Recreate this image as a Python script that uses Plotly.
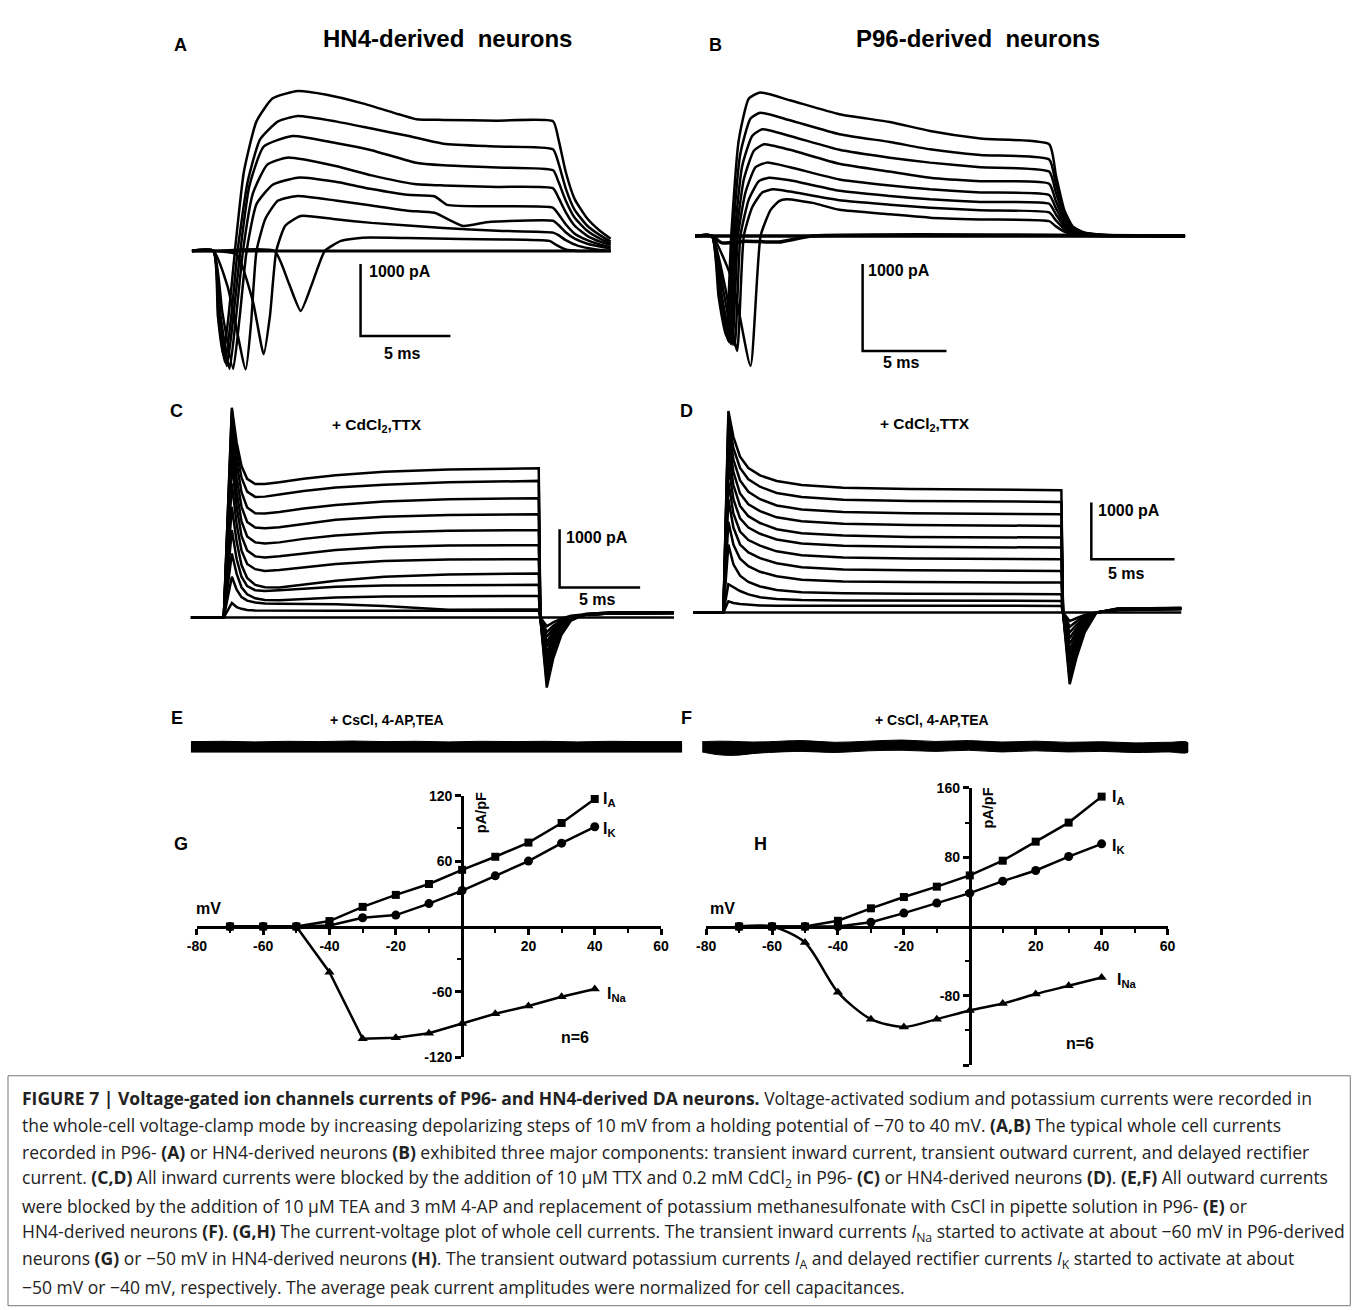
import plotly.graph_objects as go

# ======================= DATA =======================
# Panel A (HN4-derived): time (ms) / current (pA), one list per voltage step
A_times = [
    [0, 23.3],
    [0, 1.2, 4.6, 5.4, 6.06, 6.7, 7.4, 8.3, 9.5, 12, 15, 19.9, 20.3, 20.8, 21.5, 23.3],
    [0, 1.2, 2.5, 3.4, 4.0, 4.35, 4.7, 5.2, 6.06, 8, 10, 14, 17, 20.1, 20.4, 20.8, 21.5, 22.5, 23.3],
    [0, 1.2, 2.0, 3.0, 3.3, 3.6, 4.1, 4.8, 5.9, 8, 10, 12, 13.5, 15.1, 16.4, 17, 20.1, 20.4, 20.8, 21.3, 22, 22.7, 23.3],
    [0, 1.2, 1.7, 2.3, 2.65, 3.05, 3.6, 4.5, 5.9, 8, 10, 12, 13.5, 14.2, 17, 20.1, 20.4, 20.8, 21.3, 22, 22.7, 23.3],
    [0, 1.2, 1.6, 2.1, 2.45, 2.85, 3.4, 4.2, 5.3, 8, 10, 12.4, 14, 17, 20.1, 20.4, 20.8, 21.3, 22, 22.7, 23.3],
    [0, 1.2, 1.55, 1.95, 2.3, 2.7, 3.2, 4.0, 5.6, 8, 10, 12.4, 14, 17, 20.1, 20.4, 20.8, 21.3, 22, 22.7, 23.3],
    [0, 1.2, 1.5, 1.85, 2.2, 2.55, 3.1, 3.8, 4.8, 5.9, 8, 10, 12, 14, 17, 20.1, 20.4, 20.8, 21.3, 22, 22.7, 23.3],
    [0, 1.2, 1.45, 1.75, 2.05, 2.4, 2.9, 3.6, 4.5, 5.9, 7.5, 9.5, 11.5, 12.5, 14, 17, 20.1, 20.4, 20.8, 21.3, 22, 22.7, 23.3],
]
A_currents = [
    [0, 0],
    [0, 0, 0, -450, -833, -450, 0, 140, 185, 180, 165, 140, 80, 20, 0, 0],
    [0, 0, -50, -700, -1435, -900, 0, 350, 486, 440, 390, 320, 280, 255, 220, 150, 70, 20, 0],
    [0, 0, -500, -1644, -1000, 0, 450, 700, 764, 700, 630, 560, 530, 347, 400, 410, 420, 360, 260, 170, 100, 60, 30],
    [0, 0, -850, -1640, -950, 0, 650, 920, 1018, 960, 860, 780, 760, 640, 620, 600, 510, 370, 240, 150, 90, 50],
    [0, 0, -900, -1640, -950, 0, 800, 1200, 1296, 1180, 1050, 930, 910, 890, 870, 740, 540, 350, 210, 130, 80],
    [0, 0, -950, -1600, -950, 0, 900, 1450, 1597, 1500, 1400, 1230, 1190, 1160, 1120, 960, 700, 460, 280, 170, 100],
    [0, 0, -950, -1550, -900, 0, 950, 1550, 1800, 1875, 1800, 1700, 1600, 1490, 1450, 1410, 1220, 870, 570, 350, 220, 130],
    [0, 0, -900, -1450, -900, 0, 1100, 1800, 2120, 2222, 2170, 2050, 1900, 1830, 1820, 1810, 1800, 1550, 1100, 720, 450, 280, 170],
]

# Panel B (P96-derived)
B_times = [
    [0, 29.2],
    [0, 1.0, 1.6, 3, 5, 7, 29.2],
    [0, 1.0, 2.2, 3.3, 3.9, 4.5, 5.0, 5.46, 7.0, 8.6, 11.6, 14, 17, 21.1, 21.5, 22.0, 22.5, 23.2, 24.5, 29.2],
    [0, 1.0, 1.8, 2.5, 2.9, 3.4, 4.0, 4.66, 5.65, 8.6, 11.6, 14, 17, 21.1, 21.5, 22.0, 22.5, 23.2, 24.5, 29.2],
    [0, 1.0, 1.7, 2.35, 2.7, 3.2, 3.8, 4.4, 5.65, 8.6, 11.6, 14, 17, 21.1, 21.5, 22.0, 22.5, 23.2, 24.5, 29.2],
    [0, 1.0, 1.6, 2.2, 2.55, 3.0, 3.6, 4.27, 5.65, 8.6, 11.6, 14, 17, 21.1, 21.5, 22.0, 22.5, 23.2, 24.5, 29.2],
    [0, 1.0, 1.55, 2.1, 2.45, 2.9, 3.5, 4.1, 5.65, 8.6, 11.6, 14, 17, 21.1, 21.5, 22.0, 22.5, 23.2, 24.5, 29.2],
    [0, 1.0, 1.5, 2.0, 2.35, 2.8, 3.4, 4.0, 5.65, 8.6, 11.6, 14, 17, 21.1, 21.5, 22.0, 22.5, 23.2, 24.5, 29.2],
    [0, 1.0, 1.45, 1.95, 2.25, 2.7, 3.3, 3.87, 5.65, 8.6, 11.6, 14, 17, 21.1, 21.5, 22.0, 22.5, 23.2, 24.5, 29.2],
    [0, 1.0, 1.4, 1.85, 2.15, 2.6, 3.2, 3.87, 5.65, 8.6, 11.6, 14, 17, 21.1, 21.5, 22.0, 22.5, 23.2, 24.5, 29.2],
]
B_currents = [
    [0, 0],
    [0, 0, -80, -60, -70, 0, 0],
    [0, 0, -500, -1494, 0, 300, 400, 421, 380, 300, 250, 210, 190, 170, 110, 50, 20, 5, 0, 0],
    [0, 0, -600, -1322, 0, 330, 500, 536, 510, 410, 360, 325, 295, 270, 180, 80, 30, 10, 0, 0],
    [0, 0, -650, -1260, 0, 420, 630, 670, 640, 520, 460, 421, 390, 370, 250, 110, 45, 15, 5, 0],
    [0, 0, -700, -1250, 0, 500, 790, 843, 790, 650, 580, 536, 500, 470, 320, 140, 55, 20, 5, 0],
    [0, 0, -700, -1240, 0, 650, 980, 1054, 990, 830, 740, 670, 630, 600, 400, 180, 70, 25, 5, 0],
    [0, 0, -700, -1220, 0, 800, 1150, 1226, 1150, 990, 900, 843, 790, 740, 500, 220, 85, 30, 8, 0],
    [0, 0, -700, -1200, 0, 950, 1350, 1417, 1330, 1170, 1080, 996, 930, 880, 600, 260, 100, 35, 10, 0],
    [0, 0, -700, -1150, 0, 1100, 1580, 1650, 1560, 1400, 1310, 1207, 1120, 1054, 700, 300, 110, 40, 10, 0],
]

# Panel C (+CdCl2, TTX, HN4): shared time grid (ms), currents (pA)
C_time = [0, 2.05, 2.55, 2.85, 3.15, 3.5, 4.0, 4.6, 5.5, 7.0, 9.0, 12.0, 16.0, 21.6, 21.7, 22.1, 22.5, 23.0, 23.6, 24.5, 26, 30]
C_currents = [
    [0] * 22,
    [0, 0, 250, 180, 150, 130, 120, 118, 116, 115, 115, 115, 115, 115, 0, -150, -80, -20, 30, 55, 70, 80],
    [0, 0, 700, 480, 350, 290, 260, 240, 235, 232, 229, 200, 135, 140, 0, -250, -140, -50, 20, 50, 70, 80],
    [0, 0, 1100, 750, 520, 400, 330, 300, 298, 320, 345, 360, 370, 372, 0, -330, -190, -70, 15, 50, 70, 80],
    [0, 0, 1500, 1000, 700, 540, 470, 458, 470, 500, 530, 550, 558, 561, 0, -420, -240, -90, 10, 50, 70, 80],
    [0, 0, 1900, 1300, 900, 680, 560, 520, 515, 560, 630, 700, 740, 755, 0, -500, -290, -110, 10, 50, 70, 80],
    [0, 0, 2300, 1600, 1150, 920, 830, 801, 815, 860, 920, 970, 995, 1001, 0, -600, -350, -140, 0, 50, 75, 80],
    [0, 0, 2650, 1900, 1400, 1150, 1050, 1030, 1050, 1100, 1160, 1210, 1235, 1241, 0, -700, -400, -160, 0, 50, 75, 85],
    [0, 0, 2950, 2150, 1650, 1390, 1290, 1270, 1290, 1350, 1410, 1460, 1490, 1499, 0, -800, -460, -190, -10, 50, 75, 85],
    [0, 0, 3200, 2400, 1900, 1640, 1545, 1533, 1550, 1610, 1680, 1730, 1760, 1773, 0, -900, -520, -220, -20, 55, 80, 85],
    [0, 0, 3400, 2650, 2150, 1890, 1790, 1784, 1810, 1870, 1930, 1990, 2030, 2047, 0, -1000, -580, -250, -30, 55, 80, 90],
    [0, 0, 3550, 2850, 2400, 2160, 2070, 2075, 2110, 2170, 2230, 2280, 2320, 2345, 0, -1100, -640, -270, -40, 60, 85, 90],
    [0, 0, 3600, 3000, 2600, 2380, 2290, 2290, 2320, 2380, 2440, 2500, 2540, 2562, 0, -1200, -700, -300, -50, 60, 85, 90],
]

# Panel D (+CdCl2, TTX, P96)
D_time = [0, 1.8, 2.1, 2.4, 2.8, 3.3, 4.0, 5.0, 6.5, 9.0, 13, 18, 22.1, 22.2, 22.6, 23.0, 23.5, 24.2, 25.5, 29.3]
D_currents = [
    [0] * 20,
    [0, 0, 200, 170, 150, 135, 125, 120, 119, 118, 118, 118, 118, 0, -150, -100, -40, 0, 45, 60],
    [0, 0, 500, 450, 380, 320, 270, 240, 220, 212, 208, 207, 206, 0, -250, -160, -60, 0, 45, 65],
    [0, 0, 1200, 850, 650, 540, 460, 400, 360, 340, 332, 327, 325, 0, -350, -220, -90, 0, 50, 65],
    [0, 0, 1600, 1200, 950, 820, 720, 640, 580, 550, 538, 532, 529, 0, -450, -280, -110, 0, 50, 70],
    [0, 0, 2000, 1500, 1200, 1060, 960, 870, 800, 760, 745, 738, 735, 0, -550, -340, -140, 0, 55, 70],
    [0, 0, 2300, 1750, 1430, 1280, 1180, 1080, 1010, 970, 955, 947, 942, 0, -650, -400, -170, 0, 55, 70],
    [0, 0, 2600, 2000, 1660, 1500, 1390, 1290, 1220, 1180, 1160, 1150, 1146, 0, -750, -470, -200, 0, 60, 75],
    [0, 0, 2850, 2250, 1880, 1700, 1580, 1470, 1400, 1360, 1335, 1327, 1323, 0, -850, -530, -230, 0, 60, 75],
    [0, 0, 3100, 2480, 2100, 1910, 1790, 1680, 1610, 1565, 1545, 1535, 1529, 0, -950, -600, -260, 0, 65, 75],
    [0, 0, 3300, 2700, 2330, 2130, 2000, 1890, 1820, 1775, 1750, 1740, 1735, 0, -1050, -660, -290, 0, 65, 80],
    [0, 0, 3450, 2900, 2550, 2350, 2220, 2110, 2040, 1990, 1970, 1958, 1952, 0, -1150, -730, -320, 0, 70, 80],
    [0, 0, 3557, 3100, 2750, 2550, 2420, 2320, 2250, 2200, 2180, 2165, 2159, 0, -1263, -800, -350, 0, 70, 80],
]

# Panels E/F: residual current band edges (pA)
E_time = [0, 2, 4, 6, 8, 10, 12, 14, 16, 18, 20, 22, 24, 26, 28, 30.5]
E_top = [90, 95, 85, 95, 90, 100, 90, 95, 85, 95, 90, 95, 85, 95, 90, 90]
E_bottom = [-90, -85, -95, -90, -95, -85, -90, -95, -90, -85, -95, -90, -95, -85, -90, -90]
F_time = [0, 1, 2, 3, 4, 6, 8, 10, 12, 14, 16, 18, 20, 22, 24, 26, 28, 29.2]
F_top = [90, 100, 95, 85, 90, 110, 80, 100, 120, 95, 110, 85, 100, 80, 90, 70, 80, 70]
F_bottom = [-90, -140, -150, -120, -100, -80, -100, -70, -60, -80, -60, -90, -70, -90, -80, -100, -90, -90]

# Panels G/H: I-V curves (pA/pF)
voltages = [-70, -60, -50, -40, -30, -20, -10, 0, 10, 20, 30, 40]
G_IA = [0, 0, 0, 5, 18, 29, 39, 52, 64, 77, 95, 117]
G_IK = [0, 0, 0, 1, 8, 10.5, 21, 33, 46.5, 60, 76.5, 91.5]
G_INa = [0, 0, 0, -42, -103, -102, -98, -89, -80, -73, -64.5, -57.4]
H_IA = [0, 0, 0, 6.6, 21, 34, 46, 59, 76, 98, 120, 150]
H_IK = [0, 0, 0, 0, 5, 15.5, 27, 38.5, 52.4, 64.7, 80.8, 95.5]
H_INa = [0, 0, -18.5, -76, -107, -116, -107, -97, -89, -78, -68.5, -59]

G_xticks = [-80, -60, -40, -20, 20, 40, 60]
G_yticks = [-120, -60, 60, 120]
H_yticks = [-160, -80, 80, 160]
H_yticklabels = ['', '-80', '80', '160']

# ======================= LAYOUT HELPERS =======================
W, H = 1358, 1310
# measured page-to-screenshot mapping of this environment (offset, scale)
OX, OY, S = 9.0, 7.0, 0.988
FONT = "Liberation Sans, Arial, sans-serif"
CAPFONT = "Open Sans, Liberation Sans, sans-serif"
fig = go.Figure()


def PX(px):
    return (px - OX) / S / W


def PY(py):
    return 1 - (py - OY) / S / H


def xdom(px0, scale, rng):
    return [PX(px0 + rng[0] * scale), PX(px0 + rng[1] * scale)]


def ydom(py0, scale, rng):
    return [PY(py0 - rng[0] * scale), PY(py0 - rng[1] * scale)]


def hidden_panel(n, px0, xs, xr, py0, ys, yr):
    sx = '' if n == 1 else str(n)
    fig.layout['xaxis' + sx] = dict(domain=xdom(px0, xs, xr), range=xr, visible=False,
                                    anchor='y' + sx, fixedrange=True)
    fig.layout['yaxis' + sx] = dict(domain=ydom(py0, ys, yr), range=yr, visible=False,
                                    anchor='x' + sx, fixedrange=True)
    return ('x' + sx, 'y' + sx)


def ann(px, py, text, size=13, bold=True, xanchor='center', angle=0, family=FONT, color='black'):
    fig.add_annotation(x=PX(px), y=PY(py), xref='paper', yref='paper', text=text,
                       showarrow=False, xanchor=xanchor, yanchor='middle', textangle=angle,
                       borderpad=0,
                       font=dict(family=family, size=size, color=color,
                                 weight='bold' if bold else 'normal'))


def scalebar(ax, t0, i0):
    fig.add_trace(go.Scatter(x=[t0, t0, t0 + 5], y=[i0 + 1000, i0, i0], mode='lines',
                             line=dict(color='black', width=2.5), xaxis=ax[0], yaxis=ax[1],
                             hoverinfo='skip', cliponaxis=False))


# ---- Panel A ----
axA = hidden_panel(1, 191, 18, [0, 23.5], 250, 0.072, [-1900, 2400])
for t, i in zip(A_times, A_currents):
    fig.add_trace(go.Scatter(x=t, y=i, mode='lines', xaxis=axA[0], yaxis=axA[1],
                             line=dict(color='black', width=3 if len(t) == 2 else 2.5,
                                       shape='spline', smoothing=0.5), cliponaxis=False))
scalebar(axA, (360 - 191) / 18, -(335 - 250) / 0.072)

# ---- Panel B ----
axB = hidden_panel(2, 695, 16.8, [0, 29.5], 235, 0.087, [-1700, 1900])
for t, i in zip(B_times, B_currents):
    fig.add_trace(go.Scatter(x=t, y=i, mode='lines', xaxis=axB[0], yaxis=axB[1],
                             line=dict(color='black', width=3.5 if len(t) <= 7 else 2.5,
                                       shape='spline', smoothing=0.5), cliponaxis=False))
scalebar(axB, (862.7 - 695) / 16.8, -(350 - 235) / 0.087)

# ---- Panel C ----
axC = hidden_panel(3, 190, 16.13, [0, 30], 616.7, 0.0583, [-1400, 3800])
for i in C_currents:
    fig.add_trace(go.Scatter(x=C_time, y=i, mode='lines', xaxis=axC[0], yaxis=axC[1],
                             line=dict(color='black', width=2.5), cliponaxis=False))
scalebar(axC, (559.3 - 190) / 16.13, (616.7 - 586.7) / 0.0583)

# ---- Panel D ----
axD = hidden_panel(4, 693.3, 16.67, [0, 29.6], 611.7, 0.0567, [-1400, 3800])
for i in D_currents:
    fig.add_trace(go.Scatter(x=D_time, y=i, mode='lines', xaxis=axD[0], yaxis=axD[1],
                             line=dict(color='black', width=2.5), cliponaxis=False))
scalebar(axD, (1091.7 - 693.3) / 16.67, (611.7 - 558.3) / 0.0567)

# ---- Panels E, F ----
axE = hidden_panel(5, 190, 16.13, [0, 30.5], 746, 0.0583, [-400, 400])
fig.add_trace(go.Scatter(x=E_time + E_time[::-1], y=E_top + E_bottom[::-1], mode='lines',
                         fill='toself', fillcolor='black', line=dict(color='black', width=1),
                         xaxis=axE[0], yaxis=axE[1]))
axF = hidden_panel(6, 702, 16.67, [0, 29.2], 746, 0.0567, [-400, 400])
fig.add_trace(go.Scatter(x=F_time + F_time[::-1], y=F_top + F_bottom[::-1], mode='lines',
                         fill='toself', fillcolor='black', line=dict(color='black', width=1, shape='spline'),
                         xaxis=axF[0], yaxis=axF[1]))

# ---- Panels G, H (I-V plots) ----
tickfont = dict(family=FONT, size=14, color='black', weight='bold')


def iv_axes(n, x0px, xs, y0px, ys, yr, yticks, yticklabels, yminor):
    sx = str(n)
    fig.layout['xaxis' + sx] = dict(
        domain=xdom(x0px, xs, [-80, 60]), range=[-80, 60], anchor='free',
        position=PY(y0px), showline=True, linewidth=3, linecolor='black',
        ticks='outside', ticklen=6, tickwidth=2.5, tickcolor='black',
        tickmode='array', tickvals=G_xticks, ticktext=[str(v) for v in G_xticks],
        tickfont=tickfont, showgrid=False, zeroline=False, fixedrange=True,
        minor=dict(tickmode='array', tickvals=[-70, -50, -30, -10, 10, 30, 50],
                   ticks='outside', ticklen=4, tickwidth=2, tickcolor='black', showgrid=False))
    fig.layout['yaxis' + sx] = dict(
        domain=ydom(y0px, ys, yr), range=yr, anchor='free', position=PX(x0px),
        showline=True, linewidth=3, linecolor='black',
        ticks='outside', ticklen=6, tickwidth=2.5, tickcolor='black',
        tickmode='array', tickvals=yticks, ticktext=yticklabels,
        tickfont=tickfont, showgrid=False, zeroline=False, fixedrange=True,
        minor=dict(tickmode='array', tickvals=yminor, ticks='outside', ticklen=4,
                   tickwidth=2, tickcolor='black', showgrid=False))
    return ('x' + sx, 'y' + sx)


axG = iv_axes(7, 461.7, 3.32, 925.7, 1.09, [-120, 120], G_yticks,
              [str(v) for v in G_yticks], [-90, -30, 30, 90])
axH = iv_axes(8, 970, 3.3, 925.7, 0.866, [-160, 160], H_yticks, H_yticklabels,
              [-120, -40, 40, 120])

for ax, ia, ik, ina, sm in [(axG, G_IA, G_IK, G_INa, False), (axH, H_IA, H_IK, H_INa, True)]:
    fig.add_trace(go.Scatter(x=voltages, y=ia, mode='lines+markers', xaxis=ax[0], yaxis=ax[1],
                             line=dict(color='black', width=2.5),
                             marker=dict(symbol='square', size=8, color='black'), cliponaxis=False))
    fig.add_trace(go.Scatter(x=voltages, y=ik, mode='lines+markers', xaxis=ax[0], yaxis=ax[1],
                             line=dict(color='black', width=2.5),
                             marker=dict(symbol='circle', size=9, color='black'), cliponaxis=False))
    fig.add_trace(go.Scatter(x=voltages, y=ina, mode='lines+markers', xaxis=ax[0], yaxis=ax[1],
                             line=dict(color='black', width=2.5,
                                       shape='spline' if sm else 'linear', smoothing=0.8),
                             marker=dict(symbol='triangle-up', size=9, color='black'), cliponaxis=False))

# ======================= TEXT =======================
ann(180, 44, 'A', 18)
ann(715, 44, 'B', 18)
ann(447, 38, 'HN4-derived&nbsp;&nbsp;neurons', 24)
ann(978, 38, 'P96-derived&nbsp;&nbsp;neurons', 24)
ann(367, 271, '1000 pA', 16, xanchor='left')
ann(402, 353, '5 ms', 16)
ann(867, 270, '1000 pA', 16, xanchor='left')
ann(902, 362, '5 ms', 16)

ann(176, 410, 'C', 18)
ann(686, 410, 'D', 18)
ann(376, 425, '+ CdCl<sub>2</sub>,TTX', 15.5)
ann(925, 424, '+ CdCl<sub>2</sub>,TTX', 15.5)
ann(565, 537, '1000 pA', 16, xanchor='left')
ann(597, 599, '5 ms', 16)
ann(1097, 510, '1000 pA', 16, xanchor='left')
ann(1127, 573, '5 ms', 16)

ann(176, 717, 'E', 18)
ann(686, 717, 'F', 18)
ann(386, 719, '+ CsCl, 4-AP,TEA', 14)
ann(932, 719, '+ CsCl, 4-AP,TEA', 14)

ann(180, 843, 'G', 18)
ann(760, 843, 'H', 18)
ann(208, 908, 'mV', 16)
ann(722, 908, 'mV', 16)
ann(480, 812, 'pA/pF', 14.5, angle=-90)
ann(988, 807, 'pA/pF', 14.5, angle=-90)
ann(602, 799, 'I<sub>A</sub>', 16, xanchor='left')
ann(602, 829, 'I<sub>K</sub>', 16, xanchor='left')
ann(606, 994, 'I<sub>Na</sub>', 16, xanchor='left')
ann(575, 1037, 'n=6', 16)
ann(1111, 797, 'I<sub>A</sub>', 16, xanchor='left')
ann(1111, 846, 'I<sub>K</sub>', 16, xanchor='left')
ann(1116, 980, 'I<sub>Na</sub>', 16, xanchor='left')
ann(1080, 1043, 'n=6', 16)

caption = [
    "<b>FIGURE 7 | Voltage-gated ion channels currents of P96- and HN4-derived DA neurons.</b> Voltage-activated sodium and potassium currents were recorded in",
    "the whole-cell voltage-clamp mode by increasing depolarizing steps of 10 mV from a holding potential of \u221270 to 40 mV. <b>(A,B)</b> The typical whole cell currents",
    "recorded in P96- <b>(A)</b> or HN4-derived neurons <b>(B)</b> exhibited three major components: transient inward current, transient outward current, and delayed rectifier",
    "current. <b>(C,D)</b> All inward currents were blocked by the addition of 10 \u03bcM TTX and 0.2 mM CdCl<sub>2</sub> in P96- <b>(C)</b> or HN4-derived neurons <b>(D)</b>. <b>(E,F)</b> All outward currents",
    "were blocked by the addition of 10 \u03bcM TEA and 3 mM 4-AP and replacement of potassium methanesulfonate with CsCl in pipette solution in P96- <b>(E)</b> or",
    "HN4-derived neurons <b>(F)</b>. <b>(G,H)</b> The current-voltage plot of whole cell currents. The transient inward currents <i>I</i><sub>Na</sub> started to activate at about \u221260 mV in P96-derived",
    "neurons <b>(G)</b> or \u221250 mV in HN4-derived neurons <b>(H)</b>. The transient outward potassium currents <i>I</i><sub>A</sub> and delayed rectifier currents <i>I</i><sub>K</sub> started to activate at about",
    "\u221250 mV or \u221240 mV, respectively. The average peak current amplitudes were normalized for cell capacitances.",
]
for k, line in enumerate(caption):
    ann(20, 1097 + 27 * k, line, 17.5, bold=False, xanchor='left', color='#222222', family=CAPFONT)

fig.add_shape(type='rect', xref='paper', yref='paper', x0=PX(7), x1=PX(1351),
              y0=PY(1305), y1=PY(1075), line=dict(color='#777777', width=1))

fig.update_layout(width=W, height=H, margin=dict(l=0, r=0, t=0, b=0),
                  paper_bgcolor='white', plot_bgcolor='rgba(0,0,0,0)', showlegend=False)
fig.write_html("out.html", config={'displayModeBar': False},
               post_script="document.body.style.margin='0';document.body.style.overflow='hidden';")
